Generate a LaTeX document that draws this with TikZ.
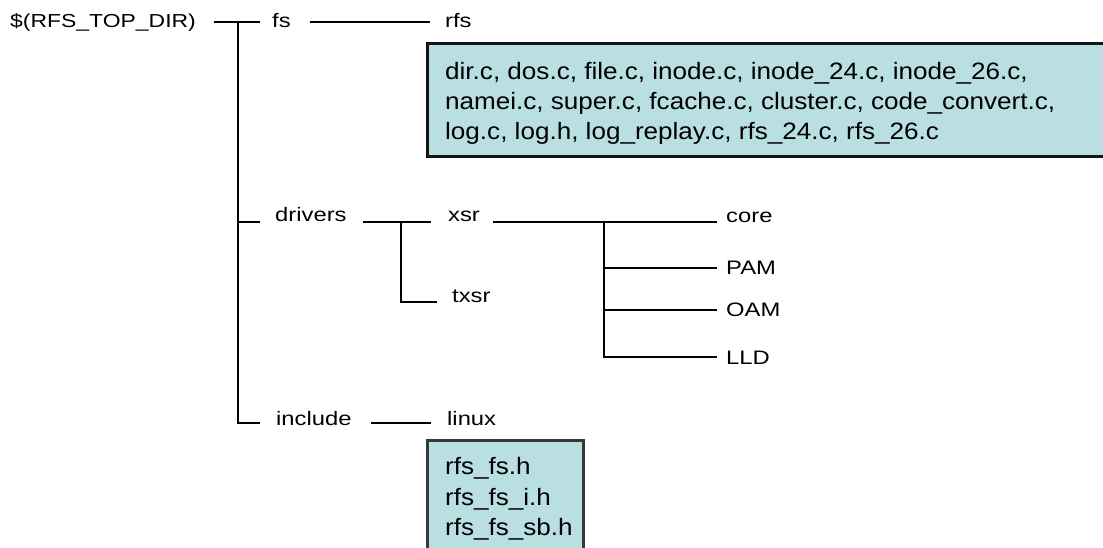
\documentclass[tikz,border=0pt]{standalone}
\usepackage{fontspec}
\newfontfamily\lblfont[FakeStretch=1.22]{Liberation Sans}
\newfontfamily\filefont[FakeStretch=1.1]{Liberation Sans}
\definecolor{boxfill}{HTML}{B9DFE3}
\tikzset{
  lbl/.style={font=\lblfont\fontsize{19.5}{22}\selectfont, inner sep=0pt, anchor=base west},
  fileline/.style={font=\filefont\fontsize{23.7}{30}\selectfont, inner sep=0pt, anchor=base west},
  branch/.style={line width=2pt},
  thinbranch/.style={line width=1.4pt},
  listbox/.style={draw, line width=3pt, fill=boxfill, inner sep=0pt, outer sep=0pt, anchor=north west},
}
\begin{document}
\begin{tikzpicture}[x=1pt,y=-1pt]
\clip (0,0) rectangle (1103,548);
\fill[white] (0,0) rectangle (1103,548);

% file list boxes
\node[listbox, draw=black!92, minimum width=720, minimum height=113] (fsbox) at (427,44) {};
\node[listbox, draw=black!78, minimum width=156, minimum height=140] (incbox) at (427,440) {};

% directory labels
\node[lbl, font=\lblfont\fontsize{18.8}{22}\selectfont] (root) at (10,28) {\$(RFS\_TOP\_DIR)};
\node[lbl] (fs) at (272,28) {fs};
\node[lbl] (rfs) at (445,28) {rfs};
\node[lbl] (drivers) at (275,222) {drivers};
\node[lbl] (xsr) at (448,222) {xsr};
\node[lbl] (txsr) at (452,302) {txsr};
\node[lbl] (core) at (726,223) {core};
\node[lbl] (pam) at (726,274) {PAM};
\node[lbl] (oam) at (726,316) {OAM};
\node[lbl] (lld) at (726,364) {LLD};
\node[lbl] (include) at (276,425) {include};
\node[lbl] (linux) at (447,425) {linux};

% file names
\node[fileline] (fsl1) at (445,80) {dir.c, dos.c, file.c, inode.c, inode\_24.c, inode\_26.c,};
\node[fileline] (fsl2) at (445,110) {namei.c, super.c, fcache.c, cluster.c, code\_convert.c,};
\node[fileline] (fsl3) at (445,140) {log.c, log.h, log\_replay.c, rfs\_24.c, rfs\_26.c};
\node[fileline] (inc1) at (445,474) {rfs\_fs.h};
\node[fileline] (inc2) at (445,505) {rfs\_fs\_i.h};
\node[fileline] (inc3) at (445,535) {rfs\_fs\_sb.h};

% junction points of the tree
\coordinate (rootA) at (214,22);
\coordinate (rootJ) at (238,22);
\coordinate (rootB) at (260,22);
\coordinate (drvJ) at (238,222);
\coordinate (drvB) at (260,222);
\coordinate (incB) at (260,423);
\coordinate (fsA) at (310,22);
\coordinate (fsB) at (430,22);
\coordinate (drvA) at (363,222);
\coordinate (drvSplit) at (401,222);
\coordinate (drvC) at (431,222);
\coordinate (txsrB) at (437,302);
\coordinate (xsrA) at (493,222);
\coordinate (xsrSplit) at (604,222);
\coordinate (coreB) at (717,222);
\coordinate (pamB) at (717,268);
\coordinate (oamB) at (717,310);
\coordinate (lldB) at (717,357);
\coordinate (incA) at (371,423);
\coordinate (incC) at (431,423);

% root level
\draw[branch] (rootA) -- (rootB);
\draw[line width=2.6pt] (rootJ) -- (drvJ);
\draw[branch] (drvJ) -- (drvB);
\draw[thinbranch] (drvJ) |- (incB);

% fs -> rfs
\draw[branch] (fsA) -- (fsB);

% drivers -> xsr / txsr
\draw[branch] (drvA) -- (drvC);
\draw[branch] (drvSplit) |- (txsrB);

% xsr -> core / PAM / OAM / LLD
\draw[branch] (xsrA) -- (coreB);
\draw[branch] (xsrSplit) |- (lldB);
\draw[branch] (xsrSplit |- pamB) -- (pamB);
\draw[branch] (xsrSplit |- oamB) -- (oamB);

% include -> linux
\draw[branch] (incA) -- (incC);
\end{tikzpicture}
\end{document}
